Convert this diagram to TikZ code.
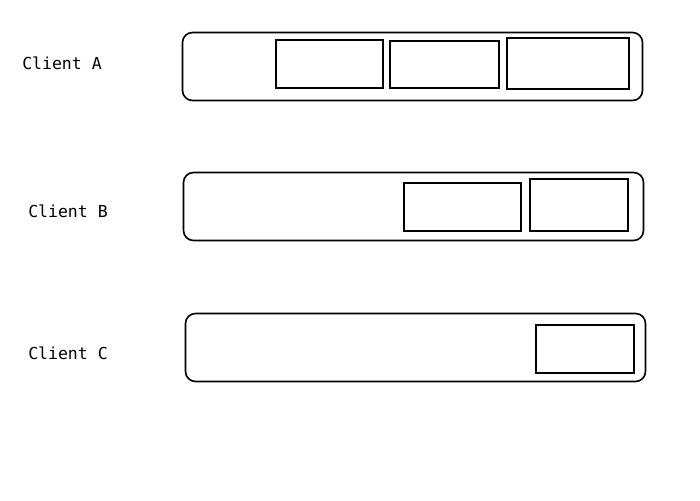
\documentclass[tikz,border=0pt]{standalone}
\usepackage{fontspec}
\setmonofont{DejaVu Sans Mono}
\usetikzlibrary{positioning}
\tikzset{
	queue/.style={draw,rounded corners=10pt,line width=1.6pt,minimum width=460pt,minimum height=68pt,inner sep=0pt,outer sep=0pt,anchor=north west},
	msg/.style={draw,line width=1.6pt,inner sep=0pt,outer sep=0pt,anchor=north west},
	client/.style={font=\ttfamily\fontsize{16.5}{20}\selectfont,inner sep=0pt}
}
\begin{document}
\begin{tikzpicture}[x=1pt,y=-1pt]
		\useasboundingbox (0,0) rectangle (700,500);
		% clients
		\node[client] (clientA) at (62,63) {Client A};
		\node[client] (clientB) at (68,211) {Client B};
		\node[client] (clientC) at (68,353) {Client C};
		% queues
		\node[queue] (queueA) at (182.5,32.5) {};
		\node[queue] (queueB) at (183.5,172.5) {};
		\node[queue] (queueC) at (185.5,313.5) {};
		% messages
		\node[msg,minimum width=107pt,minimum height=48pt] (msgA1) at (276,40) {};
		\node[msg,minimum width=109pt,minimum height=47pt] (msgA2) at (390,41) {};
		\node[msg,minimum width=122pt,minimum height=51pt] (msgA3) at (507,38) {};
		\node[msg,minimum width=117pt,minimum height=48pt] (msgB1) at (404,183) {};
		\node[msg,minimum width=98pt,minimum height=52pt] (msgB2) at (530,179) {};
		\node[msg,minimum width=98pt,minimum height=48pt] (msgC1) at (536,325) {};
	\end{tikzpicture}
\end{document}
